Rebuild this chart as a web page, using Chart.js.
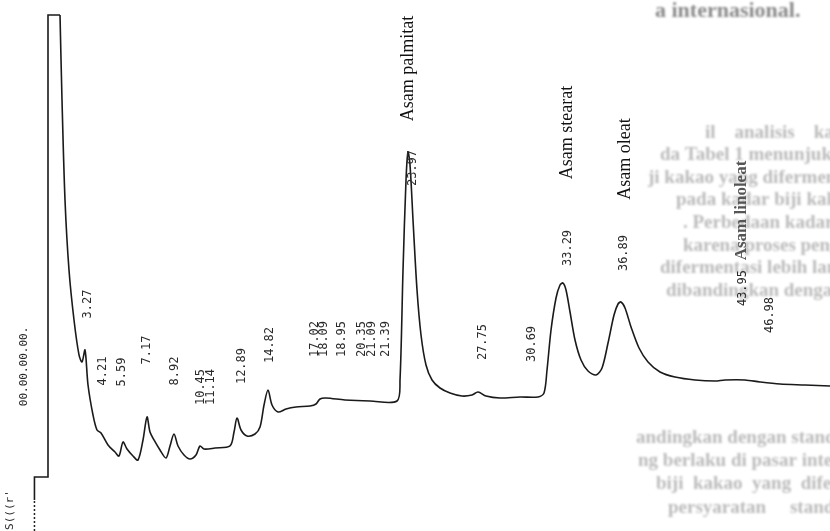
<!DOCTYPE html>
<html>
<head>
<meta charset="utf-8">
<script src="https://cdn.jsdelivr.net/npm/chart.js@4.4.1/dist/chart.umd.min.js"></script>
<style>
  html, body { margin: 0; padding: 0; background: #fff; }
  #wrap { position: relative; width: 830px; height: 531px; overflow: hidden; }
  canvas { display: block; }
</style>
</head>
<body>
<div id="wrap"><canvas id="c" width="830" height="531"></canvas></div>
<script>
// Recorder trace: retention time (min) and detector response (relative units)
const stepTime     = [0, 0, 0.865, 0.865, 1.632];
const stepResponse = [5.84, 10.17, 10.17, 97.18, 97.18];

const traceTime = [
  1.632, 1.759, 1.951, 2.206, 2.526, 2.845, 3.036, 3.228, 3.420, 3.739,
  3.994, 4.250, 4.697, 5.144, 5.399, 5.655, 5.910, 6.293, 6.612, 6.932,
  7.187, 7.379, 7.634, 8.017, 8.400, 8.656, 8.911, 9.167, 9.550, 9.933,
  10.316, 10.572, 10.827, 11.530, 12.487, 12.743, 12.934, 13.190, 13.573, 14.084,
  14.403, 14.659, 14.914, 15.169, 15.552, 16.063, 16.702, 17.596, 17.979, 18.234,
  18.617, 19.831, 21.427, 23.151, 23.343, 23.535, 23.726, 23.854, 23.982, 24.173,
  24.429, 24.684, 25.003, 25.387, 25.897, 26.536, 27.302, 27.941, 28.324, 28.835,
  29.729, 31.006, 32.155, 32.538, 32.730, 32.986, 33.305, 33.560, 33.752, 33.943,
  34.199, 34.518, 34.901, 35.348, 35.859, 36.242, 36.625, 37.008, 37.264, 37.455,
  37.711, 38.094, 38.605, 39.180, 39.946, 40.904, 42.181, 43.458, 44.096, 45.374,
  46.332, 47.609, 49.205, 50.801
];
const traceResponse = [
  97.18, 81.17, 62.34, 49.15, 39.74, 33.15, 31.83, 34.09, 27.50, 21.85,
  19.02, 18.46, 16.20, 14.88, 14.12, 16.76, 15.44, 14.12, 13.37, 17.14,
  21.47, 18.64, 17.14, 15.25, 13.75, 16.01, 18.27, 16.01, 14.31, 13.56,
  14.31, 16.01, 15.44, 15.63, 16.01, 18.64, 21.28, 19.02, 17.89, 18.27,
  19.59, 23.73, 26.55, 23.73, 22.41, 22.98, 23.35, 23.54, 23.92, 24.86,
  25.05, 24.67, 24.48, 24.48, 28.44, 49.15, 66.10, 71.37, 68.93, 58.57,
  45.39, 36.91, 31.26, 28.44, 26.93, 25.99, 25.42, 25.61, 26.18, 25.42,
  25.05, 25.24, 25.24, 25.99, 30.32, 37.85, 43.88, 46.33, 46.70, 45.39,
  41.24, 35.97, 32.20, 30.13, 29.38, 30.70, 35.40, 40.68, 42.75, 43.13,
  42.00, 38.42, 34.46, 31.83, 29.94, 29.00, 28.44, 28.25, 28.44, 28.44,
  28.06, 27.68, 27.50, 27.31
];

// Pen rest line before injection (dotted)
const restTime     = [0, 0];
const restResponse = [0, 5.84];

// Retention times printed by the integrator
const rtLabels = [
  '3.27', '4.21', '5.59', '7.17', '8.92', '10.45', '11.14', '12.89', '14.82',
  '17.02', '18.09', '18.95', '20.35', '21.09', '21.39', '23.97',
  '27.75', '30.69', '33.29', '36.89', '43.95', '46.98'
];

// Identified fatty acids
const peakNames = ['Asam palmitat', 'Asam stearat', 'Asam oleat', 'Asam linoleat'];

// Header printed by the integrator
const headerTexts = ['00.00.00.00.', 'S(((r\''];

// Where each printed text sits, in chart units (time, response)
const rtPlace = {
  time:  [3.42, 4.38, 5.59, 7.19, 8.98, 10.64, 11.27, 13.25, 15.04,
          17.92, 18.49, 19.64, 20.92, 21.55, 22.45, 24.17,
          28.64, 31.77, 34.07, 37.65, 45.25, 46.97],
  level: [42.75, 30.13, 29.94, 34.09, 30.13, 27.12, 27.12, 31.07, 35.03,
          36.16, 36.16, 36.16, 36.16, 36.16, 36.16, 68.36,
          35.59, 35.22, 53.30, 52.35, 45.76, 40.68]
};
const namePlace = {
  time:  [23.85, 34.01, 37.71, 45.18],
  level: [87.10, 75.05, 70.06, 60.36]
};
const headerPlace = { time: [-0.667, -1.56], level: [31.0, 3.95] };

const toPoints = (xs, ys) => xs.map((x, i) => ({ x, y: ys[i] }));

// Faint text of the printed page behind the chromatogram
const pageLines = [
  [655, 11, 'a internasional.', true],
  [705, 133, 'il    analisis    kadar', false],
  [660, 155, 'da Tabel 1 menunjukkan', false],
  [648, 178, 'ji kakao yang difermentasi', false],
  [676, 200, 'pada kadar biji kakao', false],
  [683, 223, '. Perbedaan kadar asam', false],
  [683, 246, 'karena proses pengolahan', false],
  [660, 268, 'difermentasi lebih lanjut', false],
  [666, 291, 'dibandingkan dengan', false],
  [636, 438, 'andingkan dengan standar', false],
  [638, 461, 'ng berlaku di pasar internasional', false],
  [656, 484, 'biji  kakao  yang  difermentasi', false],
  [668, 508, 'persyaratan     standar', false]
];

const pageTextPlugin = {
  id: 'pageText',
  beforeDatasetsDraw(chart) {
    const ctx = chart.ctx;
    ctx.save();
    ctx.filter = 'blur(0.9px)';
    ctx.textBaseline = 'middle';
    ctx.textAlign = 'left';
    pageLines.forEach(([x, y, t, top]) => {
      ctx.font = 'bold ' + (top ? '22px' : '19px') + ' "Liberation Serif", serif';
      ctx.fillStyle = top ? 'rgba(40,40,40,0.55)' : 'rgba(40,40,40,0.32)';
      ctx.fillText(t, x, y);
    });
    ctx.restore();
  }
};

function drawRotated(ctx, text, x, y, font, color) {
  ctx.save();
  ctx.translate(x, y);
  ctx.rotate(-Math.PI / 2);
  ctx.font = font;
  ctx.fillStyle = color;
  ctx.textAlign = 'center';
  ctx.textBaseline = 'middle';
  ctx.fillText(text, 0, 0);
  ctx.restore();
}

const labelPlugin = {
  id: 'peakLabels',
  afterDatasetsDraw(chart) {
    const { ctx, scales: { x, y } } = chart;
    const mono = '12px "DejaVu Sans Mono", monospace';
    rtLabels.forEach((t, i) => {
      drawRotated(ctx, t, x.getPixelForValue(rtPlace.time[i]), y.getPixelForValue(rtPlace.level[i]), mono, '#2a2a2a');
    });
    peakNames.forEach((t, i) => {
      const last = i === peakNames.length - 1;
      const font = last ? 'bold 17px "Liberation Serif", serif' : '18px "Liberation Serif", serif';
      drawRotated(ctx, t, x.getPixelForValue(namePlace.time[i]), y.getPixelForValue(namePlace.level[i]), font, last ? '#555' : '#111');
    });
    headerTexts.forEach((t, i) => {
      drawRotated(ctx, t, x.getPixelForValue(headerPlace.time[i]), y.getPixelForValue(headerPlace.level[i]), '11px "DejaVu Sans Mono", monospace', '#2a2a2a');
    });
  }
};

new Chart(document.getElementById('c'), {
  type: 'line',
  data: {
    datasets: [
      { data: toPoints(restTime, restResponse), borderColor: '#222', borderWidth: 1.5, borderDash: [2, 2], pointRadius: 0, tension: 0 },
      { data: toPoints(stepTime, stepResponse), borderColor: '#1a1a1a', borderWidth: 1.6, pointRadius: 0, tension: 0 },
      { data: toPoints(traceTime, traceResponse), borderColor: '#1a1a1a', borderWidth: 1.6, pointRadius: 0, tension: 0.3 }
    ]
  },
  options: {
    responsive: false,
    animation: false,
    events: [],
    layout: { padding: 0 },
    scales: {
      x: { type: 'linear', min: -2.2, max: 50.8, display: false },
      y: { min: 0, max: 100, display: false }
    },
    plugins: { legend: { display: false }, tooltip: { enabled: false }, title: { display: false } }
  },
  plugins: [pageTextPlugin, labelPlugin]
});
</script>
</body>
</html>
